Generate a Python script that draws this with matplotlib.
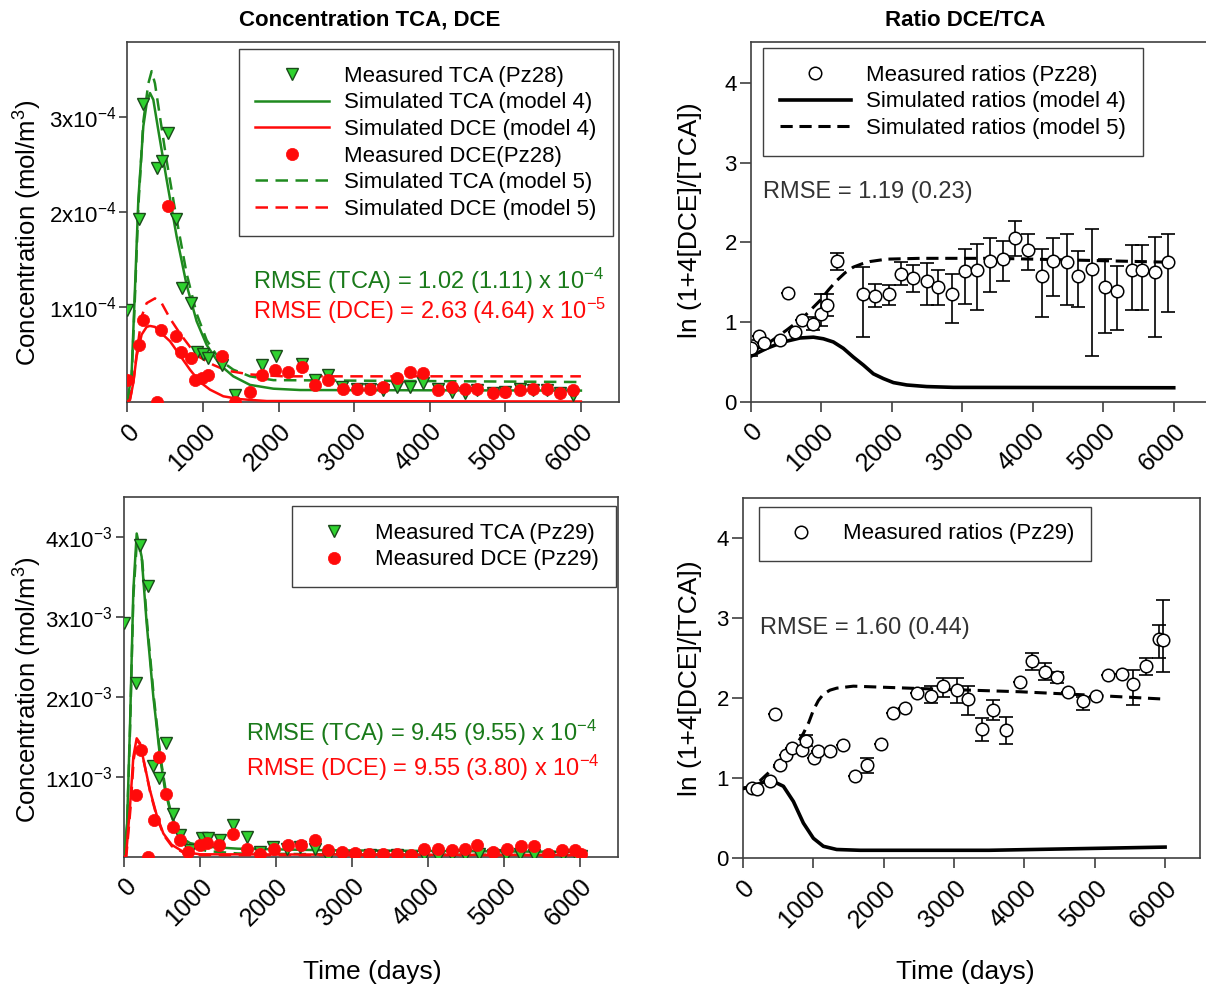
import matplotlib.pyplot as plt
import numpy as np

plt.rcParams['font.family'] = ['Liberation Sans', 'DejaVu Sans']
plt.rcParams['mathtext.fontset'] = 'custom'
plt.rcParams['mathtext.rm'] = 'Liberation Sans'
plt.rcParams['mathtext.it'] = 'Liberation Sans:italic'
plt.rcParams['mathtext.bf'] = 'Liberation Sans:bold'

# ---------------- datos ----------------
dias_ticks = [0, 1000, 2000, 3000, 4000, 5000, 6000]
dias_labels = ['0', '1000', '2000', '3000', '4000', '5000', '6000']

# Pz28 medidos (concentracion en 1e-4 mol/m3)
tca28_t = [0, 159, 203, 388, 454, 542, 644, 719, 838, 917, 1005, 1072, 1248, 1424, 1777, 1967, 2306,
           2483, 2659, 2835, 3034, 3210, 3387, 3563, 3740, 3916, 4114, 4291, 4467, 4622, 4842, 4997,
           5195, 5371, 5548, 5724, 5900]
tca28_c = [0.97, 1.93, 3.13, 2.46, 2.53, 2.83, 1.93, 1.20, 1.04, 0.53, 0.51, 0.46, 0.39, 0.07, 0.39, 0.48, 0.40,
           0.23, 0.28, 0.16, 0.14, 0.14, 0.13, 0.16, 0.16, 0.20, 0.14, 0.11, 0.09, 0.13, 0.09, 0.11,
           0.14, 0.13, 0.13, 0.09, 0.07]
dce28_t = [0, 159, 212, 397, 445, 542, 644, 710, 838, 895, 983, 1072, 1248, 1424, 1623, 1777, 1954, 2130,
           2306, 2483, 2659, 2858, 3034, 3210, 3387, 3563, 3740, 3916, 4114, 4291, 4467, 4622, 4842, 4997,
           5195, 5371, 5548, 5724, 5900]
dce28_c = [0.23, 0.60, 0.86, 0.0, 0.76, 2.06, 0.69, 0.53, 0.46, 0.23, 0.25, 0.28, 0.48, 0.0, 0.11, 0.28, 0.34, 0.32,
           0.37, 0.18, 0.23, 0.14, 0.14, 0.14, 0.16, 0.25, 0.32, 0.30, 0.13, 0.16, 0.14, 0.14, 0.09, 0.11,
           0.13, 0.14, 0.14, 0.09, 0.13]

# Pz28 simulados (1e-4)
sim_tca4_t = [0, 57, 101, 146, 212, 256, 300, 344, 410, 520, 653, 785, 917, 1050, 1226, 1402, 1623, 1932, 2284, 6000]
sim_tca4_c = [0, 0.30, 1.18, 2.13, 2.90, 3.14, 3.25, 3.18, 2.86, 2.34, 1.74, 1.23, 0.85, 0.60, 0.39, 0.27, 0.18, 0.14, 0.126, 0.12]
sim_tca5_t = [0, 57, 101, 146, 212, 278, 322, 366, 432, 520, 653, 785, 917, 1050, 1226, 1402, 1623, 1932, 6000]
sim_tca5_c = [0, 0.25, 1.10, 2.05, 2.95, 3.35, 3.48, 3.35, 3.00, 2.54, 1.92, 1.35, 0.93, 0.65, 0.44, 0.34, 0.27, 0.23, 0.21]
sim_dce4_t = [0, 35, 79, 123, 190, 256, 300, 366, 454, 564, 697, 829, 961, 1094, 1270, 1490, 1843, 6000]
sim_dce4_c = [0, 0.02, 0.20, 0.48, 0.71, 0.79, 0.80, 0.79, 0.72, 0.64, 0.49, 0.34, 0.21, 0.13, 0.06, 0.03, 0.01, 0.005]
sim_dce5_t = [0, 35, 79, 123, 190, 256, 366, 454, 564, 697, 829, 961, 1138, 1314, 1623, 2064, 6000]
sim_dce5_c = [0, 0.03, 0.20, 0.50, 0.90, 1.04, 1.09, 1.04, 0.88, 0.72, 0.58, 0.47, 0.39, 0.33, 0.29, 0.27, 0.27]

# Pz29 medidos (1e-3 mol/m3)
tca29_t = [0, 158, 210, 311, 386, 465, 553, 649, 737, 868, 1022, 1110, 1263, 1439, 1614, 1790, 1965, 2140,
           2316, 2513, 2689, 2864, 3040, 3240, 3410, 3590, 3780, 3950, 4130, 4310, 4490, 4670, 4860, 5030,
           5210, 5390, 5590, 5770, 5960, 6010]
tca29_c = [2.92, 2.17, 3.90, 3.38, 1.13, 0.98, 1.42, 0.54, 0.27, 0.08, 0.23, 0.23, 0.21, 0.40, 0.25, 0.06, 0.12, 0.10,
           0.12, 0.10, 0.0, 0.0, 0.0, 0.02, 0.01, 0.02, 0.0, 0.02, 0.0, 0.02, 0.02, 0.04, 0.02, 0.02,
           0.04, 0.02, 0.0, 0.02, 0.0, 0.01]
dce29_t = [158, 219, 320, 399, 465, 553, 640, 737, 847, 1000, 1088, 1250, 1439, 1614, 1790, 1978, 2154, 2329,
           2513, 2689, 2864, 3040, 3228, 3412, 3588, 3772, 3947, 4136, 4311, 4487, 4649, 4860, 5035, 5219,
           5399, 5583, 5759, 5934, 6009]
dce29_c = [0.77, 1.33, 0.0, 0.46, 1.25, 0.79, 0.375, 0.21, 0.06, 0.15, 0.17, 0.15, 0.29, 0.10, 0.04, 0.10, 0.15, 0.15,
           0.21, 0.08, 0.06, 0.05, 0.04, 0.04, 0.04, 0.02, 0.10, 0.10, 0.08, 0.10, 0.15, 0.06, 0.10, 0.13,
           0.13, 0.04, 0.09, 0.08, 0.04]

# Pz29 simulados (1e-3)
sim29_tca4_t = [0, 40, 80, 123, 167, 232, 298, 386, 474, 540, 627, 737, 868, 1088, 1500, 2700, 6000]
sim29_tca4_c = [0, 0.40, 1.67, 3.33, 4.04, 3.75, 2.92, 2.00, 1.25, 0.83, 0.50, 0.25, 0.17, 0.125, 0.10, 0.08, 0.06]
sim29_tca5_t = [0, 40, 80, 123, 172, 240, 306, 394, 482, 550, 637, 747, 878, 1100, 1500, 2700, 6000]
sim29_tca5_c = [0, 0.38, 1.60, 3.25, 3.98, 3.70, 2.90, 1.98, 1.23, 0.82, 0.48, 0.22, 0.12, 0.07, 0.04, 0.03, 0.02]
sim29_dce4_t = [0, 26, 79, 123, 167, 210, 276, 342, 430, 518, 627, 781, 1000, 6000]
sim29_dce4_c = [0, 0.0, 0.625, 1.25, 1.48, 1.42, 1.125, 0.83, 0.52, 0.29, 0.15, 0.06, 0.03, 0.02]
sim29_dce5_t = [0, 30, 85, 128, 172, 215, 280, 346, 434, 522, 631, 785, 1000, 6000]
sim29_dce5_c = [0, 0.0, 0.60, 1.22, 1.45, 1.40, 1.10, 0.80, 0.49, 0.27, 0.13, 0.05, 0.02, 0.02]

# Razones Pz28: valor, limite inferior y superior de la barra
rat28_t = [0, 123, 189, 416, 534, 629, 723, 889, 1000, 1078, 1220, 1598, 1764, 1967, 2128, 2307, 2496, 2662,
           2851, 3040, 3206, 3395, 3584, 3749, 3938, 4127, 4293, 4482, 4648, 4837, 5026, 5191, 5402, 5544,
           5734, 5924]
rat28_y = [0.67, 0.82, 0.74, 0.77, 1.36, 0.875, 1.02, 0.98, 1.10, 1.21, 1.77, 1.35, 1.33, 1.35, 1.60, 1.55, 1.51, 1.44,
           1.35, 1.64, 1.65, 1.77, 1.79, 2.06, 1.90, 1.58, 1.77, 1.75, 1.58, 1.67, 1.44, 1.39, 1.65, 1.65,
           1.63, 1.75]
rat28_lo = [0.57, 0.82, 0.74, 0.77, 1.36, 0.875, 1.02, 0.90, 0.95, 1.07, 1.65, 0.81, 1.19, 1.21, 1.46, 1.38, 1.21, 1.21,
            0.99, 1.23, 1.15, 1.38, 1.52, 1.83, 1.65, 1.06, 1.33, 1.21, 1.19, 0.58, 0.86, 0.90, 1.15, 1.15,
            0.81, 1.13]
rat28_hi = [0.77, 0.82, 0.74, 0.77, 1.36, 0.875, 1.02, 1.06, 1.35, 1.35, 1.87, 1.69, 1.48, 1.46, 1.75, 1.72, 1.74, 1.65,
            1.60, 1.92, 1.98, 2.06, 2.02, 2.27, 2.10, 1.92, 2.06, 2.10, 1.89, 2.17, 1.79, 1.71, 1.97, 1.97,
            2.07, 2.11]
sim_rat4_t = [0, 227, 463, 700, 889, 1031, 1172, 1314, 1456, 1598, 1740, 1882, 2024, 2213, 2496, 2875, 6000]
sim_rat4_y = [0.57, 0.67, 0.75, 0.80, 0.81, 0.79, 0.75, 0.67, 0.56, 0.46, 0.35, 0.29, 0.24, 0.21, 0.19, 0.18, 0.175]
sim_rat5_t = [0, 274, 511, 747, 983, 1100, 1220, 1340, 1456, 1575, 1693, 1929, 2402, 3500, 4500, 6000]
sim_rat5_y = [0.625, 0.75, 0.90, 1.06, 1.27, 1.40, 1.52, 1.62, 1.69, 1.73, 1.76, 1.79, 1.80, 1.80, 1.78, 1.75]

# Razones Pz29
rat29_t = [128, 208, 388, 459, 530, 616, 696, 838, 900, 1013, 1075, 1241, 1421, 1596, 1761, 1965, 2131, 2306,
           2481, 2671, 2850, 3040, 3206, 3395, 3561, 3741, 3940, 4105, 4295, 4470, 4626, 4839, 5019, 5194,
           5384, 5549, 5729, 5919, 5975]
rat29_y = [0.88, 0.86, 0.97, 1.80, 1.17, 1.29, 1.375, 1.35, 1.47, 1.25, 1.34, 1.34, 1.41, 1.03, 1.17, 1.43, 1.81, 1.875,
           2.07, 2.03, 2.15, 2.10, 1.99, 1.62, 1.85, 1.60, 2.20, 2.47, 2.33, 2.26, 2.08, 1.96, 2.03, 2.29,
           2.30, 2.175, 2.40, 2.74, 2.73]
rat29_lo = [0.88, 0.86, 0.97, 1.80, 1.17, 1.29, 1.375, 1.35, 1.40, 1.25, 1.34, 1.34, 1.41, 1.03, 1.06, 1.43, 1.81, 1.875,
            2.07, 1.94, 2.02, 1.94, 1.79, 1.46, 1.73, 1.43, 2.20, 2.35, 2.23, 2.19, 2.08, 1.85, 2.03, 2.29,
            2.30, 1.92, 2.29, 2.50, 2.33]
rat29_hi = [0.88, 0.86, 0.97, 1.80, 1.17, 1.29, 1.375, 1.35, 1.54, 1.25, 1.34, 1.34, 1.41, 1.03, 1.25, 1.43, 1.81, 1.875,
            2.07, 2.15, 2.25, 2.25, 2.15, 1.75, 1.98, 1.76, 2.20, 2.57, 2.44, 2.33, 2.08, 2.02, 2.03, 2.29,
            2.30, 2.35, 2.50, 2.92, 3.23]
sim29_rat4_t = [0, 200, 388, 578, 720, 862, 1004, 1146, 1335, 1667, 3500, 6000]
sim29_rat4_y = [0.87, 0.92, 0.98, 0.90, 0.71, 0.44, 0.25, 0.15, 0.11, 0.10, 0.10, 0.14]
sim29_rat5_t = [0, 200, 436, 625, 750, 862, 940, 1004, 1075, 1146, 1240, 1335, 1572, 2519, 3940, 4886, 5952]
sim29_rat5_y = [0.87, 0.93, 1.125, 1.27, 1.40, 1.56, 1.70, 1.85, 1.97, 2.05, 2.10, 2.125, 2.15, 2.12, 2.08, 2.04, 1.99]

conc28_ticks = [1e-4, 2e-4, 3e-4]
conc28_labels = ['1x10$^{-4}$', '2x10$^{-4}$', '3x10$^{-4}$']
conc29_ticks = [1e-3, 2e-3, 3e-3, 4e-3]
conc29_labels = ['1x10$^{-3}$', '2x10$^{-3}$', '3x10$^{-3}$', '4x10$^{-3}$']
ratio_ticks = [0, 1, 2, 3, 4]

# ---------------- figura ----------------
W, H = 1206, 990
fig = plt.figure(figsize=(W / 100, H / 100), dpi=100)


def caja(x0, x1, y0, y1):
    # pixeles -> fraccion de figura
    return [x0 / W, 1 - y1 / H, (x1 - x0) / W, (y1 - y0) / H]


ax1 = fig.add_axes(caja(127.3, 618.7, 41.7, 402))
ax2 = fig.add_axes(caja(750.7, 1209, 41.7, 401.7))
ax3 = fig.add_axes(caja(124, 618, 496.7, 856.7))
ax4 = fig.add_axes(caja(742.7, 1200.3, 498, 858.3))

VERDE = '#1f8a1f'
VERDE_M = '#2fd22f'
ROJO = '#ff0a0a'
GRIS = '#404040'

for ax in [ax1, ax2, ax3, ax4]:
    ax.set_xlim(0, 6500)
    ax.set_xticks(dias_ticks)
    ax.set_xticklabels(dias_labels, rotation=45, ha='right', va='top', rotation_mode='anchor', fontsize=18)
    ax.tick_params(axis='x', direction='out', length=7.5, width=1.2, color=GRIS, pad=5)
    ax.tick_params(axis='y', direction='out', length=6, width=1.2, color=GRIS, labelsize=16, pad=2)
    for s in ax.spines.values():
        s.set_color(GRIS)
        s.set_linewidth(1.2)

tri = dict(marker='v', ls='none', ms=8.5, mfc=VERDE_M, mec='#1a4a1a', mew=1.0)
cir = dict(marker='o', ls='none', ms=8.8, mfc=ROJO, mec=ROJO, mew=0.5)
hueco = dict(marker='o', ls='none', ms=9, mfc='white', mec='black', mew=1.1)
leg = dict(fontsize=16, frameon=True, fancybox=False, edgecolor=GRIS, framealpha=1,
           handletextpad=0.7, borderpad=0.75, labelspacing=0.25, borderaxespad=0)

# ---- panel Pz28 concentraciones ----
e = 1e-4
ax1.plot(tca28_t, np.array(tca28_c) * e, label='Measured TCA (Pz28)', zorder=4, **tri)
ax1.plot(sim_tca4_t, np.array(sim_tca4_c) * e, color=VERDE, lw=1.8, label='Simulated TCA (model 4)', zorder=3)
ax1.plot(sim_dce4_t, np.array(sim_dce4_c) * e, color=ROJO, lw=1.8, label='Simulated DCE (model 4)', zorder=3)
ax1.plot(dce28_t, np.array(dce28_c) * e, label='Measured DCE(Pz28)', zorder=5, **cir)
ax1.plot(sim_tca5_t, np.array(sim_tca5_c) * e, color=VERDE, lw=1.8, ls=(0, (5, 3)), label='Simulated TCA (model 5)', zorder=3)
ax1.plot(sim_dce5_t, np.array(sim_dce5_c) * e, color=ROJO, lw=1.8, ls=(0, (5, 3)), label='Simulated DCE (model 5)', zorder=3)
ax1.set_ylim(0, 3.79e-4)
ax1.set_yticks(conc28_ticks)
ax1.set_yticklabels(conc28_labels)
ax1.legend(loc='upper right', bbox_to_anchor=(0.989, 0.979), handlelength=3.3, **leg)
ax1.text(0.255, 0.335, 'RMSE (TCA) = 1.02 (1.11) x 10$^{-4}$', transform=ax1.transAxes, color='#1a7a1a', fontsize=17, va='center')
ax1.text(0.255, 0.252, 'RMSE (DCE) = 2.63 (4.64) x 10$^{-5}$', transform=ax1.transAxes, color=ROJO, fontsize=17, va='center')

# ---- panel Pz28 razones ----
y28 = np.array(rat28_y)
ax2.errorbar(rat28_t, y28, yerr=[y28 - np.array(rat28_lo), np.array(rat28_hi) - y28], fmt='none',
             ecolor='black', elinewidth=1.2, capsize=5, capthick=1.2, zorder=2)
ax2.plot(rat28_t, y28, zorder=4, label='Measured ratios (Pz28)', **hueco)
ax2.plot(sim_rat4_t, sim_rat4_y, color='black', lw=2.6, zorder=3, label='Simulated ratios (model 4)')
ax2.plot(sim_rat5_t, sim_rat5_y, color='black', lw=2.2, ls=(0, (4, 2.2)), zorder=3, label='Simulated ratios (model 5)')
ax2.set_ylim(0, 4.52)
ax2.set_yticks(ratio_ticks)
ax2.tick_params(axis='y', length=8)
ax2.legend(loc='upper left', bbox_to_anchor=(0.027, 0.982), handlelength=3.2, **leg)
ax2.text(0.027, 0.583, 'RMSE = 1.19 (0.23)', transform=ax2.transAxes, color='#333333', fontsize=17, va='center')

# ---- panel Pz29 concentraciones ----
e = 1e-3
ax3.plot(sim29_tca4_t, np.array(sim29_tca4_c) * e, color=VERDE, lw=1.8, zorder=3)
ax3.plot(sim29_tca5_t, np.array(sim29_tca5_c) * e, color=VERDE, lw=1.8, ls=(0, (5, 3)), zorder=3)
ax3.plot(sim29_dce4_t, np.array(sim29_dce4_c) * e, color=ROJO, lw=1.8, zorder=3)
ax3.plot(sim29_dce5_t, np.array(sim29_dce5_c) * e, color=ROJO, lw=1.8, ls=(0, (5, 3)), zorder=3)
ax3.plot(tca29_t, np.array(tca29_c) * e, label='Measured TCA (Pz29)', zorder=4, **tri)
ax3.plot(dce29_t, np.array(dce29_c) * e, label='Measured DCE (Pz29)', zorder=5, **cir)
ax3.set_ylim(0, 4.5e-3)
ax3.set_yticks(conc29_ticks)
ax3.set_yticklabels(conc29_labels)
ax3.legend(loc='upper right', bbox_to_anchor=(0.996, 0.974), handlelength=2.3, **leg)
ax3.text(0.247, 0.344, 'RMSE (TCA) = 9.45 (9.55) x 10$^{-4}$', transform=ax3.transAxes, color='#1a7a1a', fontsize=17, va='center')
ax3.text(0.247, 0.247, 'RMSE (DCE) = 9.55 (3.80) x 10$^{-4}$', transform=ax3.transAxes, color=ROJO, fontsize=17, va='center')

# ---- panel Pz29 razones ----
y29 = np.array(rat29_y)
ax4.errorbar(rat29_t, y29, yerr=[y29 - np.array(rat29_lo), np.array(rat29_hi) - y29], fmt='none',
             ecolor='black', elinewidth=1.2, capsize=5, capthick=1.2, zorder=2)
ax4.plot(sim29_rat4_t, sim29_rat4_y, color='black', lw=2.6, zorder=3)
ax4.plot(sim29_rat5_t, sim29_rat5_y, color='black', lw=2.2, ls=(0, (4, 2.2)), zorder=3)
ax4.plot(rat29_t, y29, zorder=4, label='Measured ratios (Pz29)', **hueco)
ax4.set_ylim(0, 4.5)
ax4.set_yticks(ratio_ticks)
ax4.tick_params(axis='y', length=8)
ax4.legend(loc='upper left', bbox_to_anchor=(0.036, 0.976), handlelength=2.3, **leg)
ax4.text(0.038, 0.639, 'RMSE = 1.60 (0.44)', transform=ax4.transAxes, color='#333333', fontsize=17, va='center')

# ---- textos de la figura ----
fig.text(370 / W, 1 - 20 / H, 'Concentration TCA, DCE', ha='center', va='center', fontsize=16, fontweight='bold')
fig.text(965 / W, 1 - 20 / H, 'Ratio DCE/TCA', ha='center', va='center', fontsize=16, fontweight='bold')
fig.text(28 / W, 1 - 233 / H, 'Concentration (mol/m$^3$)', rotation=90, ha='center', va='center', fontsize=18.5)
fig.text(28 / W, 1 - 690 / H, 'Concentration (mol/m$^3$)', rotation=90, ha='center', va='center', fontsize=18.5)
fig.text(690 / W, 1 - 220 / H, 'ln (1+4[DCE]/[TCA])', rotation=90, ha='center', va='center', fontsize=19)
fig.text(690 / W, 1 - 678 / H, 'ln (1+4[DCE]/[TCA])', rotation=90, ha='center', va='center', fontsize=19)
fig.text(372 / W, 1 - 972 / H, 'Time (days)', ha='center', va='center', fontsize=19)
fig.text(965 / W, 1 - 972 / H, 'Time (days)', ha='center', va='center', fontsize=19)

fig.savefig('out.png', dpi=100)
